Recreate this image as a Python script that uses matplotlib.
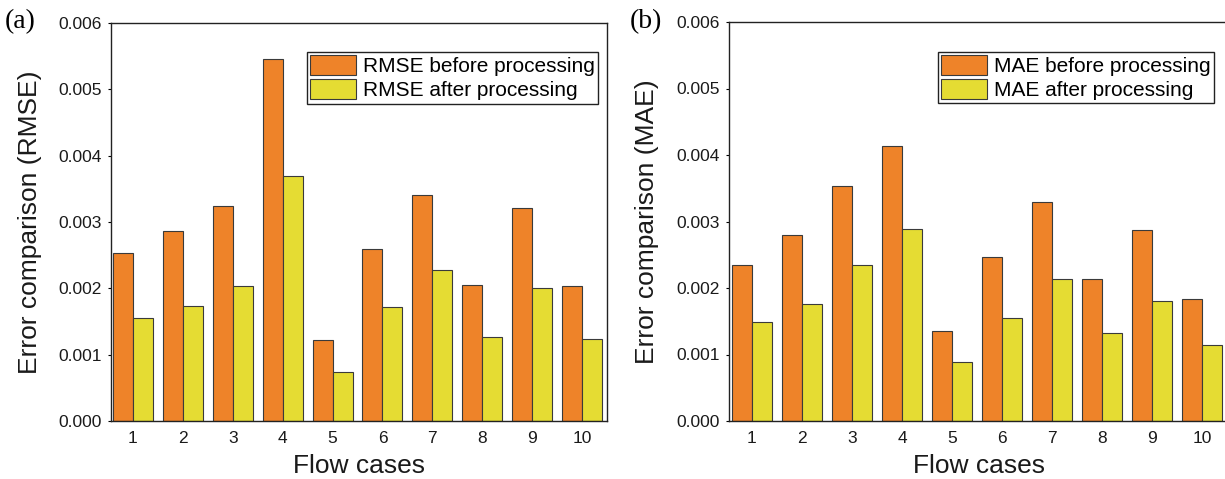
import numpy as np
import matplotlib.pyplot as plt

plt.rcParams['font.family'] = ['Liberation Sans', 'DejaVu Sans']

# Data
cases = ['1', '2', '3', '4', '5', '6', '7', '8', '9', '10']
rmse_before = [0.00254, 0.00286, 0.00324, 0.00545, 0.00122, 0.00259, 0.00341, 0.00205, 0.00321, 0.00204]
rmse_after = [0.00156, 0.00173, 0.00204, 0.00369, 0.00074, 0.00172, 0.00228, 0.00127, 0.00200, 0.00124]
mae_before = [0.00235, 0.00280, 0.00354, 0.00413, 0.00136, 0.00247, 0.00330, 0.00213, 0.00287, 0.00184]
mae_after = [0.00149, 0.00176, 0.00234, 0.00288, 0.00088, 0.00155, 0.00213, 0.00133, 0.00181, 0.00114]

orange = '#EE8329'
yellow = '#E5DC33'
text_col = '#1a1a1a'

fig = plt.figure(figsize=(12.25, 4.79), dpi=100)
ax1 = fig.add_axes([111 / 1225, 58 / 479, 496 / 1225, 398 / 479])
ax2 = fig.add_axes([729 / 1225, 58 / 479, 500 / 1225, 399 / 479])

x = np.arange(1, len(cases) + 1)
w = 0.4


def draw(ax, before, after, name, xlim, leg_anchor):
    ax.bar(x - w / 2, before, width=w, color=orange, edgecolor='#3a3a3a',
           linewidth=0.8, label=f'{name} before processing')
    ax.bar(x + w / 2, after, width=w, color=yellow, edgecolor='#3a3a3a',
           linewidth=0.8, label=f'{name} after processing')
    ax.set_xlim(*xlim)
    ax.set_ylim(0, 0.006)
    ax.set_xticks(x)
    ax.set_xticklabels(cases)
    ax.set_yticks(np.arange(0, 0.0061, 0.001))
    ax.set_yticklabels([f'{v:.3f}' for v in np.arange(0, 0.0061, 0.001)])
    ax.tick_params(axis='x', length=0, pad=7, labelsize=12.5, labelcolor=text_col)
    ax.tick_params(axis='y', length=2.5, width=0.8, pad=4, labelsize=12.5,
                   labelcolor=text_col, direction='out')
    for s in ax.spines.values():
        s.set_color('#222222')
        s.set_linewidth(1.0)
    ax.set_xlabel('Flow cases', fontsize=19, color=text_col, labelpad=6)
    ax.set_ylabel(f'Error comparison ({name})', fontsize=19, color=text_col)
    ax.yaxis.set_label_coords(-0.14, 0.5)
    leg = ax.legend(loc='upper right', bbox_to_anchor=leg_anchor, fontsize=15,
                    frameon=True, fancybox=False, framealpha=1, borderpad=0.15,
                    borderaxespad=0, handlelength=2.2, handleheight=1.1,
                    handletextpad=0.35, labelspacing=0.15)
    leg.get_frame().set_edgecolor('#222222')
    leg.get_frame().set_linewidth(1.0)


draw(ax1, rmse_before, rmse_after, 'RMSE', (0.56, 10.5), (0.982, 0.927))
draw(ax2, mae_before, mae_after, 'MAE', (0.54, 10.54), (0.97, 0.925))

fig.text(5 / 1225, 1 - 22 / 479, '(a)', fontsize=20, family='Liberation Serif',
         va='center', ha='left')
fig.text(630 / 1225, 1 - 22 / 479, '(b)', fontsize=20, family='Liberation Serif',
         va='center', ha='left')

fig.savefig('out.png', dpi=100)
